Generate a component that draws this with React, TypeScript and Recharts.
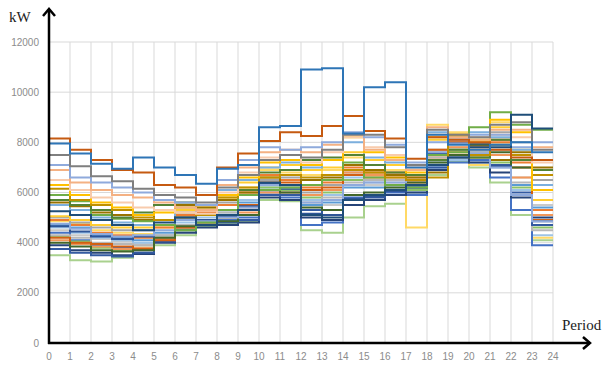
import { CartesianGrid, Line, LineChart, XAxis, YAxis } from 'recharts'

const W = 607
const H = 369
const PLOT = { left: 49, right: 553, top: 42, bottom: 343 }

const periods = [0, 1, 2, 3, 4, 5, 6, 7, 8, 9, 10, 11, 12, 13, 14, 15, 16, 17, 18, 19, 20, 21, 22, 23, 24]
const kwTicks = [0, 2000, 4000, 6000, 8000, 10000, 12000]

// hourly load per feeder, one value per period (held until the next period)
const feederA = [7950, 7550, 7150, 6950, 7400, 7000, 6700, 6350, 6950, 7100, 8600, 8650, 10900, 10950, 8350, 10200, 10400, 7000, 8300, 7900, 7700, 7900, 8000, 7600]
const feederB = [8150, 7700, 7300, 6900, 6800, 6300, 6200, 5900, 7000, 7550, 8050, 8400, 8250, 8650, 9050, 8450, 8150, 7350, 8200, 8100, 8000, 7700, 7400, 7300]
const feederC = [7500, 7050, 6650, 6450, 6150, 5900, 5800, 5600, 6200, 6700, 7300, 7500, 7400, 7700, 8300, 8300, 7800, 7100, 8500, 8300, 8200, 8700, 8800, 7700]
const feederD = [7100, 6600, 6400, 6200, 6000, 5700, 5600, 5500, 6500, 7300, 7800, 7700, 7800, 8000, 8400, 8200, 7900, 7200, 8000, 8100, 8300, 8300, 7800, 8000]
const feederE = [6900, 6400, 6100, 5900, 5800, 5600, 5400, 5300, 6300, 7000, 7600, 7700, 7600, 7900, 8300, 7700, 7300, 6900, 8600, 8200, 8100, 8500, 8500, 7800]
const feederF = [6300, 5900, 5600, 5400, 5100, 5200, 5400, 5300, 5900, 6600, 7200, 7300, 7100, 7300, 8200, 7600, 7400, 6800, 8200, 8300, 8000, 8900, 8400, 6100]
const feederG = [6150, 5700, 5500, 5300, 5000, 4900, 5000, 5100, 5800, 6200, 6600, 6700, 6600, 6700, 6900, 6800, 6600, 6500, 6600, 8200, 7500, 7900, 7500, 6700]
const feederH = [5900, 5650, 5100, 4950, 4850, 4700, 4500, 4800, 5300, 5900, 6100, 6200, 6300, 6500, 7200, 6600, 6300, 6200, 7500, 7600, 8600, 9200, 8700, 8500]
const feederI = [5700, 5500, 5300, 5000, 5200, 5500, 5600, 5500, 5900, 6100, 6800, 6900, 7300, 7400, 7500, 7100, 6800, 6700, 7300, 7700, 7400, 8100, 7300, 6900]
const feederJ = [5250, 5100, 4900, 4700, 4500, 4800, 5000, 4700, 5100, 5300, 6400, 6300, 5100, 5000, 5700, 5900, 6100, 6300, 7100, 7400, 7800, 7800, 9100, 8550]
const feederK = [4750, 4550, 4350, 4250, 4300, 4500, 4900, 4850, 5000, 5400, 6300, 6200, 5600, 5700, 6300, 6400, 6400, 6500, 7600, 7950, 7550, 7000, 5900, 4850]
const feederL = [5000, 4800, 4600, 4500, 4500, 4700, 5200, 5300, 5600, 5900, 6500, 6600, 6000, 6300, 6800, 6900, 6700, 6500, 7700, 8000, 7900, 8400, 8000, 6500]
const feederM = [4900, 4700, 4400, 4300, 4200, 4600, 5100, 5200, 5500, 6000, 6700, 6500, 6200, 6400, 7000, 6600, 6500, 6400, 7400, 7600, 7800, 8000, 7200, 5300]
const feederN = [4850, 4750, 4500, 4400, 4350, 4600, 5200, 5300, 5700, 6200, 6900, 6800, 6700, 6900, 7400, 7100, 6900, 4600, 8700, 8400, 7100, 8800, 7500, 4200]
const feederO = [4700, 4600, 4300, 4200, 4100, 4400, 4900, 5100, 5300, 5600, 6300, 6100, 5500, 5600, 6200, 6200, 6300, 6100, 7000, 7500, 7600, 7300, 6300, 5400]
const feederP = [4600, 4400, 4200, 4100, 4000, 4300, 4800, 5000, 5200, 5700, 6200, 6000, 5700, 5900, 6600, 6400, 6200, 6000, 7200, 7300, 7200, 7000, 6100, 4300]
const feederQ = [4500, 4300, 4150, 4050, 3950, 4250, 4700, 4900, 5100, 5500, 6100, 5900, 5300, 5500, 6300, 6300, 6400, 6200, 7600, 7800, 7500, 7700, 6600, 5500]
const feederR = [3500, 3300, 3250, 3400, 3550, 3900, 4300, 4650, 4750, 4850, 5700, 5650, 4500, 4400, 5000, 5450, 5550, 5900, 6700, 7250, 7000, 6400, 5100, 4100]
const feederS = [4400, 4100, 3900, 3800, 3700, 4100, 4600, 4800, 4900, 5000, 6000, 5800, 4700, 4800, 5800, 5900, 6000, 5900, 7100, 7200, 7300, 6600, 5300, 3900]
const feederT = [3900, 3700, 3600, 3500, 3550, 4000, 4400, 4600, 4700, 4800, 5800, 5700, 5000, 4900, 5500, 5700, 5900, 6000, 6900, 7400, 7200, 6800, 5800, 5000]
const feederU = [4250, 4050, 3800, 3700, 3800, 4200, 4500, 4700, 5000, 5300, 6200, 6100, 5800, 6000, 6500, 6500, 6300, 6100, 7300, 7700, 8100, 7200, 6200, 4600]
const feederV = [4100, 3950, 3850, 3750, 3800, 4150, 4600, 4850, 5000, 5200, 6000, 6000, 5900, 6100, 6800, 6700, 6600, 6600, 7500, 7800, 7700, 7500, 6600, 5100]
const feederW = [4300, 4200, 4000, 3950, 3900, 4300, 4700, 4900, 5200, 5400, 6300, 6200, 5600, 5800, 6400, 6500, 6500, 6300, 7400, 7700, 7600, 7900, 6400, 4500]
const feederX = [3750, 3600, 3500, 3450, 3600, 4050, 4500, 4700, 4800, 4900, 5900, 5900, 5300, 5100, 5700, 5800, 6100, 6200, 7000, 7500, 7500, 7100, 6000, 4700]
const feederY = [5050, 4900, 4700, 4600, 4600, 4900, 5300, 5400, 5800, 6400, 7000, 7100, 6900, 7000, 7600, 7300, 7100, 6700, 8100, 8300, 8100, 8600, 7700, 5700]
const feederZ = [4200, 4000, 3950, 3850, 3750, 4100, 4600, 4800, 5100, 5500, 6400, 6400, 6100, 6200, 6700, 6800, 6800, 6700, 7700, 8000, 7900, 8100, 7000, 4900]
const feederAA = [5500, 5300, 5000, 4800, 4700, 4900, 5400, 5500, 6100, 6500, 7000, 7200, 7000, 7300, 8000, 7400, 7200, 6900, 8400, 8200, 8400, 8200, 7700, 6300]
const feederAB = [5600, 5450, 5200, 5100, 4900, 5300, 5500, 5400, 5700, 6000, 6600, 6300, 6500, 6600, 7100, 6900, 6700, 6600, 6800, 8300, 7400, 7300, 7600, 7000]
const feederAC = [4000, 3850, 3700, 3650, 3700, 4200, 4650, 4700, 4850, 5100, 6100, 6000, 5400, 5300, 5900, 6000, 6200, 6400, 7200, 7500, 7900, 7600, 7000, 6900]
const feederAD = [6500, 6100, 5800, 5600, 5400, 5300, 5200, 5150, 6000, 6800, 7400, 7500, 7200, 7600, 8200, 7800, 7500, 7000, 8300, 8100, 8200, 8300, 8200, 7200]
const feederAE = [4650, 4450, 4250, 4150, 4250, 4700, 5000, 4900, 5050, 5450, 6350, 6150, 5150, 5100, 5750, 5850, 6050, 6200, 7550, 7950, 7950, 7050, 5900, 4850]

const SERIES = [
  { key: 'q', color: '#a9d18e', values: feederR },
  { key: 'p', color: '#c9c9c9', values: feederQ },
  { key: 'o', color: '#9dc3e6', values: feederP },
  { key: 'n', color: '#5b9bd5', values: feederO },
  { key: 'm', color: '#ffd966', values: feederN },
  { key: 'l', color: '#ed7d31', values: feederM },
  { key: 'k', color: '#a5a5a5', values: feederL },
  { key: 's', color: '#4472c4', values: feederS },
  { key: 't', color: '#264478', values: feederT },
  { key: 'u', color: '#8cc168', values: feederU },
  { key: 'v', color: '#f1975a', values: feederV },
  { key: 'w', color: '#b7b7b7', values: feederW },
  { key: 'x', color: '#335aa1', values: feederX },
  { key: 'y', color: '#ffcd33', values: feederY },
  { key: 'z', color: '#d26012', values: feederZ },
  { key: 'aa', color: '#7cafdd', values: feederAA },
  { key: 'ab', color: '#997300', values: feederAB },
  { key: 'ac', color: '#43682b', values: feederAC },
  { key: 'ae', color: '#2f5597', values: feederAE },
  { key: 'kk', color: '#8faadc', values: feederK },
  { key: 'h', color: '#70ad47', values: feederH },
  { key: 'i', color: '#548235', values: feederI },
  { key: 'g', color: '#bf9000', values: feederG },
  { key: 'f', color: '#ffc000', values: feederF },
  { key: 'ad', color: '#f8cbad', values: feederAD },
  { key: 'e', color: '#f4b183', values: feederE },
  { key: 'd', color: '#8faadc', values: feederD },
  { key: 'c', color: '#7f7f7f', values: feederC },
  { key: 'j', color: '#1f4e79', values: feederJ },
  { key: 'b', color: '#c55a11', values: feederB },
  { key: 'a', color: '#2e75b6', values: feederA },
]

// stepAfter needs a closing point at period 24 carrying the last value
const rows = periods.map((p) => {
  const row: Record<string, number> = { period: p }
  for (const s of SERIES) row[s.key] = s.values[Math.min(p, s.values.length - 1)]
  return row
})

const tickStyle = { fill: '#8c8c8c', fontSize: 10, fontFamily: 'Liberation Sans, Arial, sans-serif' }

export default function App() {
  return (
    <div style={{ position: 'relative', width: W, height: H, background: '#fff' }}>
      <style>{'body{margin:0}'}</style>
      <LineChart
        width={W}
        height={H}
        data={rows}
        margin={{ top: PLOT.top, right: W - PLOT.right, left: 0, bottom: 0 }}
      >
        <CartesianGrid stroke="#d9d9d9" strokeWidth={1} />
        <XAxis
          dataKey="period"
          type="number"
          domain={[0, 24]}
          ticks={periods}
          interval={0}
          height={H - PLOT.bottom}
          axisLine={false}
          tickLine={false}
          tickMargin={4}
          tick={tickStyle}
        />
        <YAxis
          type="number"
          domain={[0, 12000]}
          ticks={kwTicks}
          interval={0}
          width={PLOT.left}
          axisLine={false}
          tickLine={false}
          tickMargin={4}
          tick={tickStyle}
        />
        {SERIES.map((s) => (
          <Line
            key={s.key}
            dataKey={s.key}
            type="stepAfter"
            stroke={s.color}
            strokeWidth={2}
            dot={false}
            activeDot={false}
            isAnimationActive={false}
          />
        ))}
      </LineChart>
      {/* axis arrows and unit labels */}
      <svg
        width={W}
        height={H}
        style={{ position: 'absolute', left: 0, top: 0, pointerEvents: 'none' }}
      >
        <g stroke="#000" strokeWidth={2.5} fill="none" strokeLinecap="butt" strokeLinejoin="miter">
          <line x1={PLOT.left} y1={PLOT.bottom + 1} x2={PLOT.left} y2={9} />
          <polyline points={`${PLOT.left - 6},${16} ${PLOT.left},${9} ${PLOT.left + 6},${16}`} />
          <line x1={PLOT.left - 1} y1={PLOT.bottom} x2={590} y2={PLOT.bottom} />
          <polyline points={`${583},${PLOT.bottom - 6} ${590},${PLOT.bottom} ${583},${PLOT.bottom + 6}`} />
        </g>
        <text x={9} y={22} fontFamily="Liberation Serif, serif" fontSize={15} fill="#222">
          kW
        </text>
        <text x={562} y={330} fontFamily="Liberation Serif, serif" fontSize={15} fill="#222">
          Period
        </text>
      </svg>
    </div>
  )
}
